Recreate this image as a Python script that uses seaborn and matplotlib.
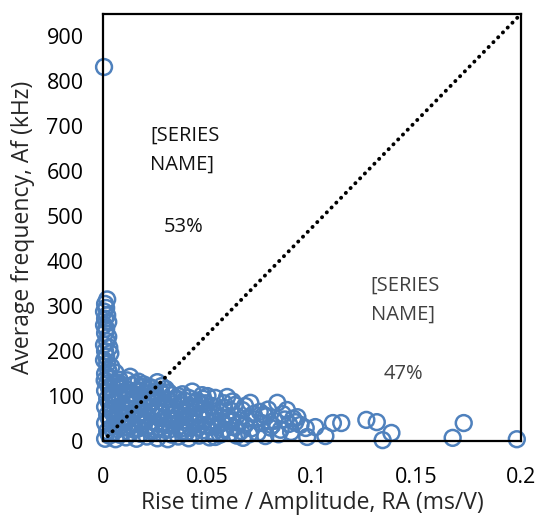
import matplotlib
matplotlib.use("Agg")
import matplotlib.pyplot as plt
import seaborn as sns
import pandas as pd

# Rise time / Amplitude (ms/V)
ra = [
    0.0005,
    0.002, 0.001, 0.0015, 0.0005, 0.002, 0.001, 0.0025, 0.0005, 0.0015, 0.001, 0.0025, 0.002, 0.0005,
    0.003, 0.001, 0.0035, 0.0015, 0.0005, 0.002, 0.004, 0.0025, 0.001, 0.006, 0.003, 0.0008,
    0.001, 0.003, 0.002, 0.004, 0.001, 0.003, 0.002, 0.004, 0.001, 0.003, 0.002, 0.004, 0.001, 0.003, 0.002,
    0.006, 0.008, 0.007, 0.009, 0.006, 0.008, 0.007, 0.009, 0.006, 0.008, 0.007, 0.009, 0.006, 0.008,
    0.011, 0.013, 0.012, 0.014, 0.011, 0.013, 0.012, 0.014, 0.011, 0.013, 0.012, 0.014, 0.013,
    0.016, 0.018, 0.017, 0.019, 0.016, 0.018, 0.017, 0.019, 0.016, 0.018, 0.017, 0.019, 0.017,
    0.021, 0.023, 0.022, 0.024, 0.021, 0.023, 0.022, 0.024, 0.021, 0.023, 0.0225, 0.026,
    0.026, 0.028, 0.027, 0.029, 0.026, 0.028, 0.027, 0.029, 0.026, 0.028, 0.030,
    0.031, 0.033, 0.032, 0.034, 0.031, 0.033, 0.032, 0.034, 0.031, 0.033,
    0.036, 0.038, 0.037, 0.039, 0.036, 0.038, 0.037, 0.039, 0.036, 0.0427,
    0.041, 0.043, 0.042, 0.044, 0.041, 0.043, 0.042, 0.044, 0.041,
    0.046, 0.048, 0.047, 0.049, 0.046, 0.048, 0.047, 0.0475,
    0.051, 0.053, 0.052, 0.054, 0.051, 0.053, 0.052, 0.0537, 0.0537,
    0.056, 0.058, 0.057, 0.059, 0.056, 0.058, 0.0594,
    0.061, 0.063, 0.062, 0.064, 0.061, 0.063, 0.067, 0.0666,
    0.066, 0.068, 0.069, 0.0705, 0.072, 0.071,
    0.074, 0.076, 0.0777, 0.078, 0.080, 0.079,
    0.082, 0.0834, 0.085, 0.086, 0.088, 0.089,
    0.091, 0.093, 0.0945, 0.097, 0.0977, 0.1016, 0.1064, 0.110, 0.114, 0.126, 0.131, 0.1338,
    0.138, 0.1673, 0.1726, 0.198,
    0.005, 0.005, 0.005, 0.010, 0.010, 0.010, 0.015, 0.015, 0.015, 0.020, 0.020,
    0.025, 0.025, 0.025, 0.030, 0.030, 0.035, 0.035, 0.040, 0.040, 0.045, 0.045,
    0.050, 0.050, 0.055, 0.060, 0.065, 0.070, 0.075, 0.084, 0.090,
    0.004, 0.009, 0.014, 0.019, 0.024, 0.029, 0.034, 0.039, 0.044, 0.049,
    0.003, 0.008, 0.018, 0.028, 0.038, 0.048, 0.058, 0.062, 0.068, 0.073,
    0.077, 0.081, 0.087, 0.092, 0.057, 0.064,
    0.0035, 0.0075, 0.0115, 0.0155, 0.0195, 0.0235, 0.0275, 0.0315,
    0.0055, 0.0095, 0.0135, 0.0175, 0.0215, 0.0255, 0.0295, 0.0335,
    0.0375, 0.0415, 0.0455, 0.0495,
]
# Average frequency (kHz)
af = [
    832,
    315, 305, 296, 288, 280, 272, 265, 258, 250, 240, 232, 222, 214,
    208, 200, 195, 188, 180, 172, 165, 158, 150, 152, 142, 135,
    5, 12, 22, 30, 40, 48, 58, 66, 76, 84, 94, 102, 112, 120, 128,
    4, 14, 26, 36, 46, 56, 66, 76, 86, 96, 106, 116, 126, 136,
    8, 18, 30, 40, 52, 62, 72, 82, 92, 104, 114, 124, 143,
    5, 16, 28, 38, 50, 60, 70, 80, 90, 100, 110, 120, 132,
    10, 22, 34, 44, 55, 66, 77, 88, 98, 108, 120, 131,
    6, 18, 30, 42, 54, 64, 76, 86, 96, 106, 116,
    4, 14, 26, 38, 50, 60, 70, 82, 92, 102,
    10, 22, 34, 46, 58, 68, 80, 90, 100, 110,
    6, 18, 30, 42, 54, 64, 76, 86, 96,
    12, 24, 36, 48, 60, 70, 82, 102,
    8, 20, 32, 44, 56, 66, 78, 96, 9,
    14, 26, 40, 52, 64, 74, 98,
    18, 30, 44, 56, 68, 80, 7, 69,
    22, 36, 50, 85, 60, 28,
    18, 40, 11, 55, 30, 70,
    45, 85, 25, 60, 69, 38,
    50, 53, 36, 29, 9, 31, 11, 40, 40, 47, 42, 2,
    18, 7, 40, 4,
    20, 60, 100, 30, 70, 110, 25, 65, 105, 45, 85,
    25, 70, 110, 35, 80, 50, 95, 20, 65, 40, 90,
    60, 100, 35, 45, 40, 15, 65, 15, 20,
    72, 52, 88, 64, 96, 50, 68, 56, 74, 84,
    116, 124, 112, 122, 104, 94, 84, 88, 78, 48,
    58, 35, 48, 42, 20, 12,
    138, 130, 135, 128, 126, 117, 110, 108,
    36, 44, 34, 46, 30, 40, 25, 45,
    28, 50, 30, 34,
]

line_x = [0.0, 0.2]
line_y = [0, 950]

x_ticks = [0, 0.05, 0.1, 0.15, 0.2]
x_tick_labels = ["0", "0.05", "0.1", "0.15", "0.2"]
y_ticks = list(range(0, 1000, 100))

series_labels = ["[SERIES\nNAME]", "[SERIES\nNAME]"]
pct_labels = ["53%", "47%"]

sns.set_style("white")
plt.rcParams["font.family"] = ["Open Sans", "DejaVu Sans"]

fig = plt.figure(figsize=(5.37, 5.16), dpi=100)
ax = fig.add_axes([0.1918, 0.1453, 0.7784, 0.8276])

df = pd.DataFrame({"ra": ra, "af": af})
sns.scatterplot(data=df, x="ra", y="af", ax=ax, marker="o", s=130,
                facecolor="none", edgecolor="#4F81BD", linewidth=1.8,
                clip_on=False, zorder=2, legend=False)

sns.lineplot(x=line_x, y=line_y, ax=ax, color="black", linewidth=2.8,
             linestyle=(0, (0.05, 1.7)), zorder=3)
ax.lines[-1].set_dash_capstyle("round")

ax.set_xlim(0, 0.2)
ax.set_ylim(0, 950)
ax.set_xticks(x_ticks)
ax.set_xticklabels(x_tick_labels)
ax.set_yticks(y_ticks)

for s in ax.spines.values():
    s.set_visible(True)
    s.set_linewidth(1.6)
    s.set_color("black")
    s.set_zorder(4)

ax.tick_params(axis="both", direction="in", length=5, width=1.3,
               labelsize=15.5, colors="black")
ax.tick_params(axis="y", pad=14)
ax.tick_params(axis="x", pad=19)

ax.set_xlabel("Rise time / Amplitude, RA (ms/V)", fontsize=16.5, labelpad=2)
ax.set_ylabel("Average frequency, Af (kHz)", fontsize=16.5, labelpad=8)

ax.text(0.0225, 647, series_labels[0], fontsize=14.5, color="#111111",
        ha="left", va="center", linespacing=1.6)
ax.text(0.0384, 477, pct_labels[0], fontsize=14.5, color="#111111",
        ha="center", va="center")
ax.text(0.128, 313, series_labels[1], fontsize=14.5, color="#404040",
        ha="left", va="center", linespacing=1.6)
ax.text(0.1438, 150, pct_labels[1], fontsize=14.5, color="#404040",
        ha="center", va="center")

fig.savefig("out.png", dpi=100)
